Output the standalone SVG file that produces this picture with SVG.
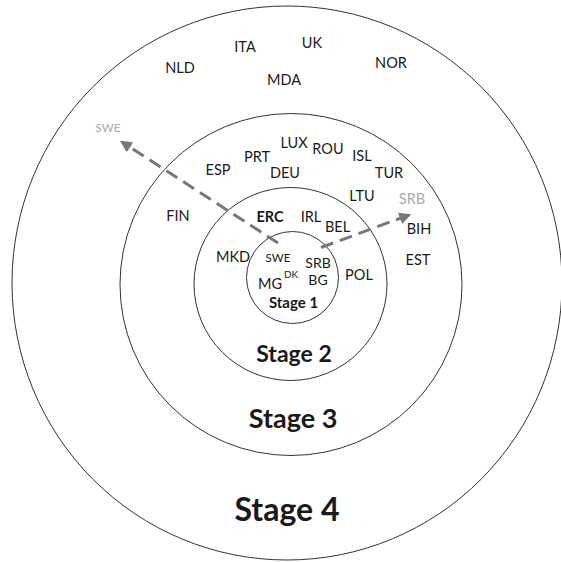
<svg xmlns="http://www.w3.org/2000/svg" width="561" height="562" viewBox="0 0 561 562">
<style>
.ring{fill:none;stroke:#333;stroke-width:1}
text{font-family:Lato,"Open Sans",sans-serif;fill:#1a1a1a;text-anchor:middle}
.c{font-size:14.5px}
.g{fill:#aaa}
.s{font-size:11.5px}
.b{font-weight:bold}
.arr{fill:none;stroke:#777;stroke-width:3;stroke-dasharray:13 7;marker-end:url(#ah)}
</style>
<defs>
<marker id="ah" viewBox="0 0 10 10" refX="8" refY="5" markerWidth="4" markerHeight="4" orient="auto" markerUnits="strokeWidth">
<path d="M0,0 L10,5 L0,10 z" fill="#777"/>
</marker>
</defs>
<rect width="561" height="562" fill="#fff"/>
<g id="stage4">
<ellipse class="ring" cx="287" cy="283" rx="275" ry="277"/>
<text class="b" x="287" y="521" font-size="32">Stage 4</text>
<text class="c" x="180" y="73">NLD</text>
<text class="c" x="245" y="52">ITA</text>
<text class="c" x="312" y="48">UK</text>
<text class="c" x="284" y="85">MDA</text>
<text class="c" x="391" y="68">NOR</text>
<text class="s g" x="108" y="132">SWE</text>
</g>
<g id="stage3">
<circle class="ring" cx="291" cy="284.5" r="171"/>
<text class="b" x="293" y="428" font-size="27">Stage 3</text>
<text class="c" x="218" y="175">ESP</text>
<text class="c" x="257" y="162">PRT</text>
<text class="c" x="294" y="148">LUX</text>
<text class="c" x="328" y="154">ROU</text>
<text class="c" x="362" y="161">ISL</text>
<text class="c" x="285" y="178">DEU</text>
<text class="c" x="389" y="178">TUR</text>
<text class="c" x="178" y="221">FIN</text>
<text class="c" x="419" y="234">BIH</text>
<text class="c" x="418" y="265">EST</text>
<text class="c g" x="412" y="204">SRB</text>
</g>
<g id="stage2">
<circle class="ring" cx="290.5" cy="284" r="96.5"/>
<text class="b" x="294" y="362" font-size="23">Stage 2</text>
<text class="c" x="362" y="201">LTU</text>
<text class="c b" x="270" y="222">ERC</text>
<text class="c" x="311" y="222">IRL</text>
<text class="c" x="337.5" y="231.5">BEL</text>
<text class="c" x="233" y="262">MKD</text>
<text class="c" x="359" y="280">POL</text>
</g>
<g id="stage1">
<circle class="ring" cx="292.5" cy="277.5" r="46"/>
<text class="b" x="293.5" y="308" font-size="15">Stage 1</text>
<text class="s" x="278" y="262">SWE</text>
<text x="318" y="268" font-size="14">SRB</text>
<text x="318" y="285" font-size="14">BG</text>
<text class="c" x="270" y="289">MG</text>
<text x="291" y="278" font-size="10">DK</text>
</g>
<g id="connectors">
<line class="arr" x1="278" y1="243" x2="122" y2="142"/>
<line class="arr" x1="321" y1="247.5" x2="409" y2="215"/>
</g>
</svg>
